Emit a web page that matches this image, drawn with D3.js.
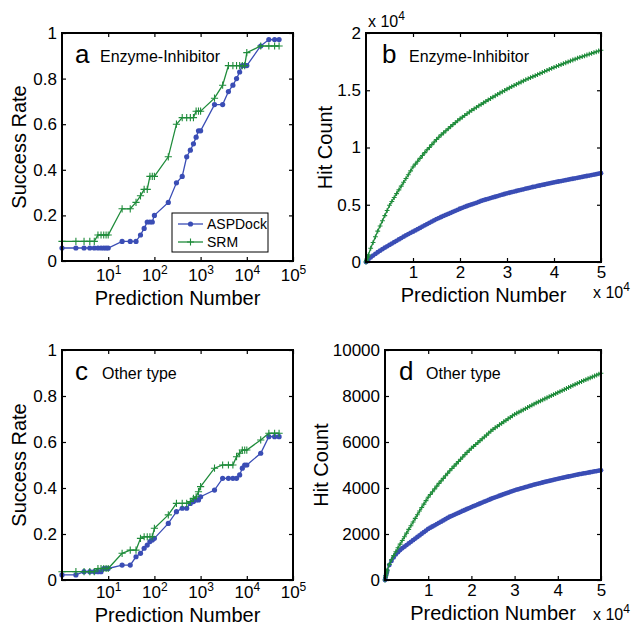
<!DOCTYPE html>
<html>
<head>
<meta charset="utf-8">
<script src="https://cdn.jsdelivr.net/npm/d3@7"></script>
<style>
  body { margin: 0; background: #fff; }
  text { font-family: "Liberation Sans", Arial, sans-serif; }
</style>
</head>
<body>
<div id="viz"></div>
<script>
// prediction numbers used on the log panels (a, c)
var predN = [1,2,3,4,5,6,7,8,9,10,20,30,40,50,60,70,80,90,100,200,300,400,500,600,700,800,900,1000,
  2000,3000,4000,5000,6000,7000,8000,9000,10000,20000,30000,40000,50000];

// success rates, Enzyme-Inhibitor
var aAsp = [0.057,0.057,0.057,0.057,0.057,0.057,0.057,0.057,0.057,0.057,
  0.086,0.086,0.086,0.114,0.143,0.171,0.171,0.171,0.2,
  0.257,0.343,0.371,0.457,0.486,0.514,0.543,0.571,0.571,
  0.686,0.686,0.743,0.771,0.8,0.829,0.857,0.857,0.857,
  0.943,0.971,0.971,0.971];
var aSrm = [0.086,0.086,0.086,0.086,0.086,0.114,0.114,0.114,0.114,0.114,
  0.229,0.229,0.257,0.286,0.314,0.314,0.371,0.371,0.371,
  0.457,0.6,0.629,0.629,0.629,0.629,0.657,0.657,0.657,
  0.714,0.771,0.857,0.857,0.857,0.857,0.857,0.857,0.914,
  0.943,0.943,0.943,0.943];

// success rates, Other type
var cAsp = [0.022,0.022,0.036,0.036,0.036,0.036,0.036,0.05,0.05,0.05,
  0.065,0.065,0.101,0.116,0.138,0.152,0.167,0.174,0.181,
  0.246,0.297,0.312,0.312,0.333,0.341,0.348,0.348,0.362,
  0.391,0.442,0.442,0.442,0.442,0.457,0.486,0.5,0.5,
  0.551,0.623,0.623,0.623];
var cSrm = [0.036,0.036,0.036,0.036,0.036,0.05,0.05,0.05,0.05,0.05,
  0.116,0.13,0.13,0.181,0.188,0.188,0.188,0.188,0.225,
  0.283,0.333,0.333,0.333,0.341,0.355,0.362,0.384,0.406,
  0.486,0.5,0.5,0.5,0.536,0.551,0.565,0.565,0.565,
  0.609,0.638,0.638,0.638];

// prediction numbers for the hit count panels (b, d)
var hitX = [0,100,200,300,400].concat(d3.range(500, 50001, 500));

var bAsp = [0,50,95,140,180,
  220,400,560,710,850,990,1120,1250,1370,1490,
  1610,1730,1850,1970,2090,2210,2330,2440,2550,2650,
  2760,2870,2980,3090,3200,3310,3420,3530,3640,3750,
  3840,3930,4020,4110,4200,4290,4380,4470,4560,4650,
  4730,4810,4890,4960,5030,5100,5170,5250,5330,5400,
  5460,5520,5580,5640,5700,5760,5820,5880,5940,6000,
  6050,6100,6150,6200,6250,6300,6350,6400,6450,6500,
  6550,6590,6640,6680,6730,6770,6820,6860,6910,6950,
  6990,7030,7070,7110,7150,7190,7230,7270,7310,7350,
  7390,7430,7470,7510,7550,7590,7630,7670,7710,7750];
var bSrm = [0,140,270,390,500,
  620,1200,1700,2200,2700,3150,3600,4050,4500,4950,
  5290,5630,5970,6300,6630,6960,7290,7620,7960,8300,
  8550,8800,9050,9300,9550,9800,10000,10250,10480,10700,
  10900,11100,11280,11460,11640,11820,12000,12170,12340,12500,
  12650,12800,12950,13100,13240,13380,13510,13640,13770,13900,
  14030,14160,14280,14400,14520,14640,14760,14870,14980,15100,
  15210,15320,15420,15520,15620,15720,15820,15920,16010,16100,
  16190,16280,16370,16460,16550,16640,16730,16820,16910,17000,
  17080,17160,17240,17320,17400,17480,17560,17640,17720,17800,
  17870,17940,18010,18080,18150,18220,18290,18360,18430,18500];

var dAsp = [0,95,180,260,330,
  400,650,830,980,1110,1210,1300,1380,1450,1520,
  1590,1660,1730,1800,1870,1940,2010,2080,2150,2220,
  2273,2326,2379,2432,2485,2538,2591,2644,2697,2750,
  2792,2834,2876,2918,2960,3002,3044,3086,3128,3170,
  3209,3248,3287,3326,3365,3404,3443,3482,3521,3560,
  3594,3628,3662,3696,3730,3764,3798,3832,3866,3900,
  3927,3954,3981,4008,4035,4062,4089,4116,4143,4170,
  4193,4216,4239,4262,4285,4308,4331,4354,4377,4400,
  4420,4440,4460,4480,4500,4520,4540,4560,4580,4600,
  4617,4634,4651,4668,4685,4702,4719,4736,4753,4770];
var dSrm = [0,100,190,270,350,
  430,680,880,1060,1230,1400,1560,1720,1880,2040,
  2200,2360,2520,2680,2840,3000,3150,3300,3450,3600,
  3720,3840,3960,4080,4200,4310,4420,4530,4640,4750,
  4850,4950,5050,5150,5250,5350,5450,5550,5640,5730,
  5810,5890,5970,6060,6140,6220,6300,6390,6470,6550,
  6620,6680,6750,6810,6880,6940,7010,7070,7140,7200,
  7250,7300,7350,7400,7450,7500,7550,7600,7650,7700,
  7745,7790,7835,7880,7925,7970,8015,8060,8105,8150,
  8194,8238,8282,8326,8370,8414,8458,8502,8546,8590,
  8630,8670,8710,8750,8790,8830,8870,8910,8950,8990];

var rateTicks = [0,0.2,0.4,0.6,0.8,1];
var logTicks = [10,100,1000,10000,100000];
var hitXTicks = [10000,20000,30000,40000,50000];
var bYTicks = [0,5000,10000,15000,20000];
var dYTicks = [0,2000,4000,6000,8000,10000];

var blue = "#3a4db5", green = "#1f8c3b";
var font = "'Liberation Sans', Arial, sans-serif";

var svg = d3.select("#viz").append("svg")
    .attr("width", 635).attr("height", 626);

function supText(sel, base, exp, size) {
  sel.append("tspan").text(base);
  sel.append("tspan").attr("dy", "-0.55em").style("font-size", size + "px").text(exp);
}

function panel(o) {
  var g = svg.append("g");
  var x = o.x, y = o.y;
  var L = x.range()[0], R = x.range()[1], B = y.range()[0], T = y.range()[1];

  // series: lines then markers
  o.series.forEach(function(s) {
    g.append("path").datum(s.values)
      .attr("fill", "none").attr("stroke", s.color).attr("stroke-width", 1.3)
      .attr("d", d3.line().x(function(d, i) { return x(o.xs[i]); }).y(function(d) { return y(d); }));
    if (s.marker == "dot") {
      g.append("g").selectAll("circle").data(s.values).enter().append("circle")
        .attr("cx", function(d, i) { return x(o.xs[i]); })
        .attr("cy", function(d) { return y(d); })
        .attr("r", o.dotR).attr("fill", s.color);
    } else {
      var h = o.plusH;
      g.append("g").selectAll("path").data(s.values).enter().append("path")
        .attr("transform", function(d, i) { return "translate(" + x(o.xs[i]) + "," + y(d) + ")"; })
        .attr("d", "M" + (-h) + ",0H" + h + "M0," + (-h) + "V" + h)
        .attr("stroke", s.color).attr("stroke-width", 1.1).attr("fill", "none");
    }
  });

  // axes, MATLAB style inward ticks on all four sides
  var xa = g.append("g").attr("transform", "translate(0," + B + ")")
    .call(d3.axisBottom(x).tickValues(o.xt).tickSizeInner(-4).tickSizeOuter(0).tickPadding(o.xpad).tickFormat(o.xf || ""));
  g.append("g").attr("transform", "translate(0," + T + ")")
    .call(d3.axisTop(x).tickValues(o.xt).tickSizeInner(-4).tickSizeOuter(0).tickFormat(""));
  g.append("g").attr("transform", "translate(" + L + ",0)")
    .call(d3.axisLeft(y).tickValues(o.yt).tickSizeInner(-4).tickSizeOuter(0).tickPadding(5).tickFormat(o.yf));
  g.append("g").attr("transform", "translate(" + R + ",0)")
    .call(d3.axisRight(y).tickValues(o.yt).tickSizeInner(-4).tickSizeOuter(0).tickFormat(""));
  g.selectAll(".domain").remove();
  g.selectAll(".tick line").attr("stroke", "#000").attr("stroke-width", 1.2);
  g.selectAll(".tick text").attr("fill", "#000").style("font-size", "17px").style("font-family", font);

  if (o.log) {
    xa.selectAll(".tick text").text(null).each(function(d) {
      supText(d3.select(this), "10", Math.round(Math.log10(d)), 12);
    });
  }

  g.append("rect").attr("x", L).attr("y", T).attr("width", R - L).attr("height", B - T)
    .attr("fill", "none").attr("stroke", "#000").attr("stroke-width", 2);

  // axis titles
  g.append("text").attr("x", (L + R) / 2).attr("y", o.xlabY).attr("text-anchor", "middle")
    .style("font-size", "20px").text("Prediction Number");
  g.append("text").attr("transform", "translate(" + o.ylabX + "," + ((T + B) / 2) + ") rotate(-90)")
    .attr("text-anchor", "middle").style("font-size", "20px").text(o.ylab);

  // panel letter and title
  g.append("text").attr("x", o.letX).attr("y", T + 30).style("font-size", "26px").text(o.letter);
  g.append("text").attr("x", o.titX).attr("y", T + 29).style("font-size", "16px").text(o.title);

  if (o.exp) {
    if (o.exp.top) {
      supText(g.append("text").attr("x", L + 2).attr("y", T - 6).style("font-size", "16px"), "x 10", "4", 12);
    }
    supText(g.append("text").attr("x", R - 8).attr("y", o.exp.botY).style("font-size", "16px"), "x 10", "4", 12);
  }
  return g;
}

var rateFmt = function(d) { return String(+d.toFixed(1)); };

// a
var ga = panel({
  x: d3.scaleLog().domain([1, 100000]).range([62, 293]),
  y: d3.scaleLinear().domain([0, 1]).range([261, 33]),
  xs: predN, log: true, xt: logTicks, xpad: 8, yt: rateTicks, yf: rateFmt,
  series: [{values: aAsp, color: blue, marker: "dot"}, {values: aSrm, color: green, marker: "plus"}],
  dotR: 2.6, plusH: 3.6,
  xlabY: 305, ylab: "Success Rate", ylabX: 26, letter: "a", letX: 75, title: "Enzyme-Inhibitor", titX: 100
});

// legend in panel a
var lg = ga.append("g");
lg.append("rect").attr("x", 172).attr("y", 213).attr("width", 96).attr("height", 39)
  .attr("fill", "#fff").attr("stroke", "#000").attr("stroke-width", 1);
var legItems = [{name: "ASPDock", color: blue, marker: "dot"}, {name: "SRM", color: green, marker: "plus"}];
legItems.forEach(function(it, i) {
  var yy = 224 + i * 18;
  lg.append("line").attr("x1", 178).attr("x2", 203).attr("y1", yy).attr("y2", yy)
    .attr("stroke", it.color).attr("stroke-width", 1.3);
  if (it.marker == "dot") {
    lg.append("circle").attr("cx", 190.5).attr("cy", yy).attr("r", 2.6).attr("fill", it.color);
  } else {
    lg.append("path").attr("d", "M187,"+yy+"H194M190.5,"+(yy-3.5)+"V"+(yy+3.5))
      .attr("stroke", it.color).attr("stroke-width", 1.1);
  }
  lg.append("text").attr("x", 207).attr("y", yy + 5).style("font-size", "14px").text(it.name);
});

// b
panel({
  x: d3.scaleLinear().domain([0, 50000]).range([366, 601]),
  y: d3.scaleLinear().domain([0, 20000]).range([262, 33]),
  xs: hitX, xt: hitXTicks, xf: function(d) { return d / 10000; }, xpad: 4,
  yt: bYTicks, yf: function(d) { return d / 10000; },
  series: [{values: bAsp, color: blue, marker: "dot"}, {values: bSrm, color: green, marker: "plus"}],
  dotR: 2.4, plusH: 2.4,
  xlabY: 302, ylab: "Hit Count", ylabX: 332, letter: "b", letX: 382, title: "Enzyme-Inhibitor", titX: 409,
  exp: {top: true, botY: 298}
});

// c
panel({
  x: d3.scaleLog().domain([1, 100000]).range([62, 293]),
  y: d3.scaleLinear().domain([0, 1]).range([580, 350]),
  xs: predN, log: true, xt: logTicks, xpad: 6, yt: rateTicks, yf: rateFmt,
  series: [{values: cAsp, color: blue, marker: "dot"}, {values: cSrm, color: green, marker: "plus"}],
  dotR: 2.6, plusH: 3.6,
  xlabY: 622, ylab: "Success Rate", ylabX: 26, letter: "c", letX: 75, title: "Other type", titX: 102
});

// d
panel({
  x: d3.scaleLinear().domain([0, 50000]).range([385, 601]),
  y: d3.scaleLinear().domain([0, 10000]).range([580, 350]),
  xs: hitX, xt: hitXTicks, xf: function(d) { return d / 10000; }, xpad: 4,
  yt: dYTicks, yf: function(d) { return d; },
  series: [{values: dAsp, color: blue, marker: "dot"}, {values: dSrm, color: green, marker: "plus"}],
  dotR: 2.4, plusH: 2.4,
  xlabY: 620, ylab: "Hit Count", ylabX: 328, letter: "d", letX: 399, title: "Other type", titX: 426,
  exp: {top: false, botY: 620}
});
</script>
</body>
</html>
